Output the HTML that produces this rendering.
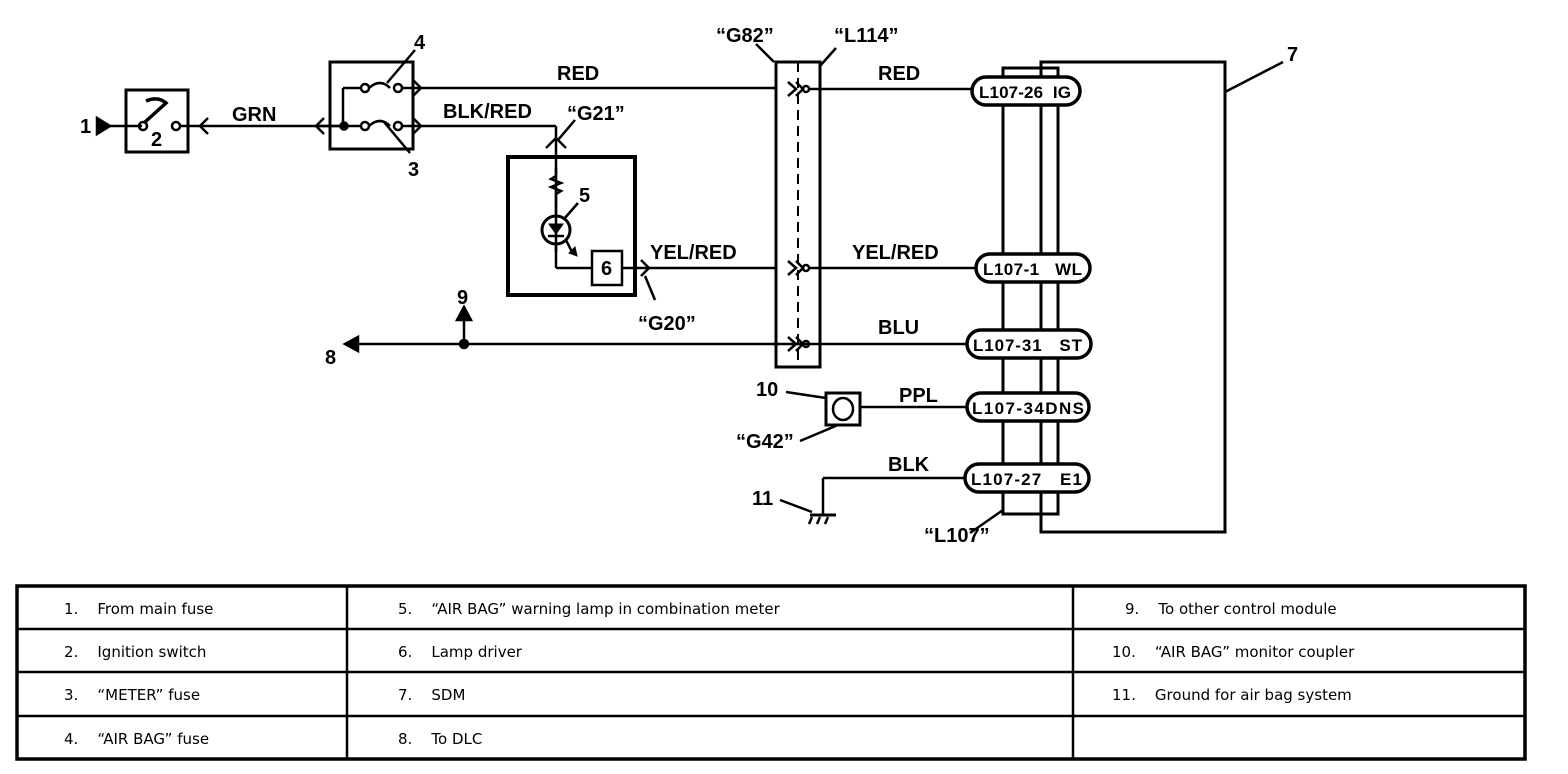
<!DOCTYPE html>
<html><head><meta charset="utf-8"><style>
html,body{margin:0;padding:0;background:#fff}
svg{display:block}
.t{font-family:"Liberation Sans",Arial,sans-serif;font-weight:bold;font-size:20px}
.c{font-family:"Liberation Sans",Arial,sans-serif;font-size:17px;font-weight:bold}
.tb{font-family:"DejaVu Sans","Liberation Sans",sans-serif;font-size:15px}
</style></head><body>
<svg width="1568" height="774" viewBox="0 0 1568 774" xmlns="http://www.w3.org/2000/svg">
<g fill="none" stroke="#000" stroke-width="2.5">
<polygon points="97,118 97,134 110,126" fill="#000"/>
<line x1="110" y1="126" x2="142" y2="126"/>
<rect x="126" y="90" width="62" height="62" stroke-width="3"/>
<circle cx="143" cy="126" r="4"/>
<circle cx="176" cy="126" r="4"/>
<path d="M145,122 L166,103 Q158,96 146,101" stroke-width="3.5"/>
<line x1="180" y1="126" x2="345" y2="126"/>
<path d="M208,118 L200,126 L208,134"/>
<text class="t" x="232" y="121" fill="#000" stroke="none">GRN</text>
<path d="M324,118 L316,126 L324,134"/>
<rect x="330" y="62" width="83" height="87" stroke-width="3"/>
<line x1="318" y1="126" x2="362" y2="126"/>
<line x1="343" y1="126" x2="343" y2="88"/>
<line x1="343" y1="88" x2="361" y2="88"/>
<circle cx="344" cy="126" r="3.5" fill="#000"/>
<circle cx="365" cy="88" r="4"/><circle cx="398" cy="88" r="4"/>
<circle cx="365" cy="126" r="4"/><circle cx="398" cy="126" r="4"/>
<path d="M369,88 Q380,78 390,88"/>
<path d="M369,126 Q380,116 390,126"/>
<line x1="387" y1="83" x2="415" y2="50"/>
<line x1="384" y1="122" x2="410" y2="153"/>
<path d="M413,80 L421,88 L413,96"/>
<path d="M413,118 L421,126 L413,134"/>
<line x1="402" y1="88" x2="775" y2="88"/>
<line x1="402" y1="126" x2="556" y2="126"/>
<line x1="556" y1="126" x2="556" y2="252"/>
<path d="M546,148 L556,138 L566,148"/>
<line x1="558" y1="140" x2="575" y2="120"/>
<rect x="508" y="157" width="127" height="138" stroke-width="4"/>
<path d="M556,168 L556,176 L551,179 L561,183 L551,187 L561,191 L556,194 L556,214"/>
<circle cx="556" cy="230" r="14" stroke-width="3"/>
<polygon points="549,224 563,224 556,234" fill="#000" stroke-width="1"/>
<line x1="548" y1="236" x2="564" y2="236"/>
<line x1="564" y1="219" x2="578" y2="203"/>
<path d="M566,240 L572,252"/><polygon points="569,253 577,256 575,247" fill="#000" stroke-width="1"/>
<line x1="556" y1="244" x2="556" y2="268"/>
<line x1="556" y1="268" x2="592" y2="268"/>
<rect x="592" y="251" width="30" height="34" stroke-width="2.5"/>
<line x1="622" y1="268" x2="775" y2="268"/>
<path d="M641,260 L649,268 L641,276"/>
<line x1="645" y1="276" x2="655" y2="300"/>
<polygon points="345,344 358,337 358,351" fill="#000"/>
<line x1="355" y1="344" x2="972" y2="344"/>
<circle cx="464" cy="344" r="4" fill="#000"/>
<line x1="464" y1="344" x2="464" y2="318"/>
<polygon points="457,320 471,320 464,307" fill="#000"/>
<rect x="776" y="62" width="44" height="305" stroke-width="3"/>
<line x1="798" y1="62" x2="798" y2="367" stroke-dasharray="10,6" stroke-width="2"/>
<line x1="774" y1="62" x2="756" y2="44"/>
<line x1="820" y1="66" x2="836" y2="48"/>
<g>
<path d="M788,82 L796,89 L788,96 M796,82 L803,89 L796,96"/><circle cx="806" cy="89" r="3"/>
<path d="M788,261 L796,268 L788,275 M796,261 L803,268 L796,275"/><circle cx="806" cy="268" r="3"/>
<path d="M788,337 L796,344 L788,351 M796,337 L803,344 L796,351"/><circle cx="806" cy="344" r="3"/>
</g>
<line x1="809" y1="89" x2="972" y2="89"/>
<line x1="809" y1="268" x2="975" y2="268"/>
<rect x="1041" y="62" width="184" height="470" stroke-width="3"/>
<rect x="1003" y="68" width="55" height="446" stroke-width="3"/>
<line x1="1225" y1="92" x2="1283" y2="62"/>
<g fill="#fff" stroke-width="3.5">
<rect x="972" y="77" width="108" height="28" rx="14"/>
<rect x="976" y="254" width="114" height="28" rx="14"/>
<rect x="967" y="330" width="124" height="28" rx="14"/>
<rect x="967" y="393" width="122" height="28" rx="14"/>
<rect x="965" y="464" width="124" height="28" rx="14"/>
</g>
<rect x="826" y="393" width="34" height="32" stroke-width="3"/>
<ellipse cx="843" cy="409" rx="10" ry="11"/>
<line x1="860" y1="407" x2="967" y2="407"/>
<line x1="786" y1="392" x2="826" y2="398"/>
<line x1="800" y1="441" x2="838" y2="425"/>
<line x1="823" y1="478" x2="965" y2="478"/>
<line x1="823" y1="478" x2="823" y2="515"/>
<line x1="810" y1="515" x2="836" y2="515" stroke-width="3"/>
<path d="M812,517 L809,524 M820,517 L817,524 M828,517 L825,524"/>
<line x1="780" y1="500" x2="812" y2="512"/>
<line x1="1003" y1="510" x2="970" y2="533"/>
<rect x="17" y="586" width="1508" height="173" stroke-width="3.5"/>
<line x1="347" y1="586" x2="347" y2="759" stroke-width="2.5"/>
<line x1="1073" y1="586" x2="1073" y2="759" stroke-width="2.5"/>
<line x1="17" y1="629" x2="1525" y2="629" stroke-width="2.5"/>
<line x1="17" y1="672" x2="1525" y2="672" stroke-width="2.5"/>
<line x1="17" y1="716" x2="1525" y2="716" stroke-width="2.5"/>
</g>
<g fill="#000">
<text class="t" x="80" y="133">1</text>
<text class="t" x="151" y="146">2</text>
<text class="t" x="408" y="176">3</text>
<text class="t" x="414" y="49">4</text>
<text class="t" x="579" y="202">5</text>
<text class="t" x="601" y="275">6</text>
<text class="t" x="1287" y="61">7</text>
<text class="t" x="325" y="364">8</text>
<text class="t" x="457" y="304">9</text>
<text class="t" x="756" y="396">10</text>
<text class="t" x="752" y="505">11</text>
<text class="t" x="557" y="80">RED</text>
<text class="t" x="443" y="118">BLK/RED</text>
<text class="t" x="567" y="120">“G21”</text>
<text class="t" x="650" y="259">YEL/RED</text>
<text class="t" x="638" y="330">“G20”</text>
<text class="t" x="716" y="42">“G82”</text>
<text class="t" x="834" y="42">“L114”</text>
<text class="t" x="878" y="80">RED</text>
<text class="t" x="852" y="259">YEL/RED</text>
<text class="t" x="878" y="334">BLU</text>
<text class="t" x="899" y="402">PPL</text>
<text class="t" x="888" y="471">BLK</text>
<text class="t" x="736" y="448">“G42”</text>
<text class="t" x="924" y="542">“L107”</text>
<text class="c" x="979" y="98" textLength="92">L107-26&#160;&#160;IG</text>
<text class="c" x="983" y="275" textLength="99">L107-1&#160;&#160;&#160;WL</text>
<text class="c" x="973" y="351" textLength="109">L107-31&#160;&#160;&#160;ST</text>
<text class="c" x="972" y="414" textLength="112">L107-34DNS</text>
<text class="c" x="971" y="485" textLength="111">L107-27&#160;&#160;&#160;E1</text>
<g class="tb">
<text x="64" y="614">1.&#160;&#160;&#160;&#160;From main fuse</text>
<text x="64" y="657">2.&#160;&#160;&#160;&#160;Ignition switch</text>
<text x="64" y="700">3.&#160;&#160;&#160;&#160;“METER” fuse</text>
<text x="64" y="744">4.&#160;&#160;&#160;&#160;“AIR BAG” fuse</text>
<text x="398" y="614">5.&#160;&#160;&#160;&#160;“AIR BAG” warning lamp in combination meter</text>
<text x="398" y="657">6.&#160;&#160;&#160;&#160;Lamp driver</text>
<text x="398" y="700">7.&#160;&#160;&#160;&#160;SDM</text>
<text x="398" y="744">8.&#160;&#160;&#160;&#160;To DLC</text>
<text x="1125" y="614">9.&#160;&#160;&#160;&#160;To other control module</text>
<text x="1112" y="657">10.&#160;&#160;&#160;&#160;“AIR BAG” monitor coupler</text>
<text x="1112" y="700">11.&#160;&#160;&#160;&#160;Ground for air bag system</text>
</g>
</g>
</svg>
</body></html>
